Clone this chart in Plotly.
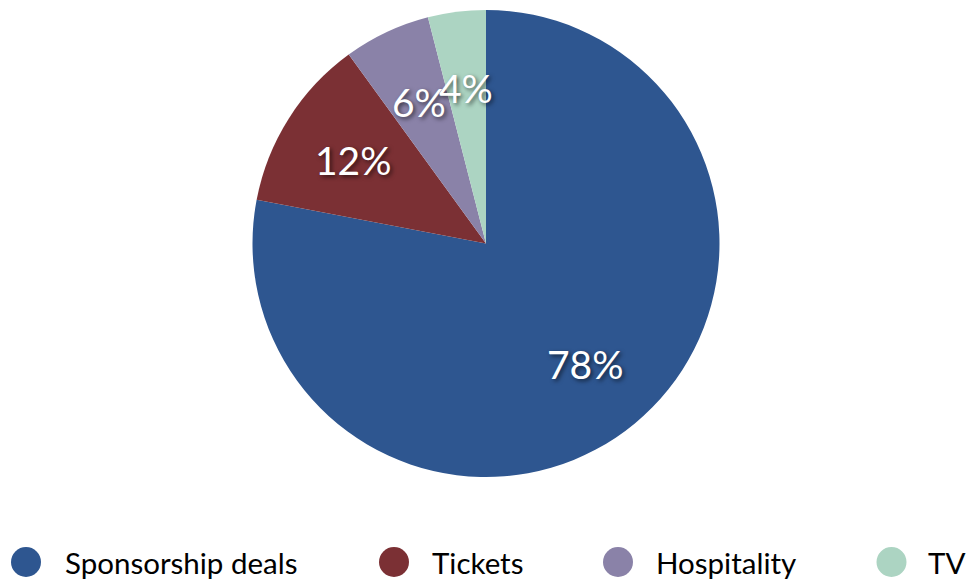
import math
import plotly.graph_objects as go

# Revenue split by source
categories = ["Sponsorship deals", "Tickets", "Hospitality", "TV"]
shares = [78, 12, 6, 4]
colors = ["#2E5690", "#7B3034", "#8A82A8", "#ACD4C2"]

W, H = 968, 579
FONT = "Lato, Liberation Sans, sans-serif"

# Pie geometry (pixels)
cx, cy, R = 486.0, 243.5, 233.5


def px_x(x):
    return x / W


def px_y(y):
    return 1 - y / H


fig = go.Figure(
    go.Pie(
        labels=categories,
        values=shares,
        marker=dict(colors=colors, line=dict(width=0)),
        sort=False,
        direction="clockwise",
        rotation=0,
        textinfo="none",
        hoverinfo="label+percent",
        showlegend=False,
        domain=dict(x=[px_x(cx - R), px_x(cx + R)], y=[px_y(cy + R), px_y(cy - R)]),
    )
)

# Percentage labels placed along each slice's mid-angle
total = sum(shares)
start = 0.0
annotations = []
for v in shares:
    sweep = 360.0 * v / total
    mid = math.radians(start + sweep / 2)
    start += sweep
    lx = cx + 0.67 * R * math.sin(mid)
    ly = cy - 0.67 * R * math.cos(mid)
    annotations.append(
        dict(
            x=px_x(lx), y=px_y(ly), xref="paper", yref="paper",
            text=f"{round(100 * v / total)}%", showarrow=False,
            xanchor="center", yanchor="middle",
            font=dict(family=FONT, size=39, color="white",
                      shadow="2px 2px 4px rgba(0,0,0,0.6)"),
        )
    )

# Legend row with circular swatches
legend_circle_x = [26, 394, 618, 891.5]
legend_text_x = [65, 432, 656, 928]
legend_y = 562
r_dot = 15
shapes = []
for name, col, mx, tx in zip(categories, colors, legend_circle_x, legend_text_x):
    shapes.append(
        dict(type="circle", xref="paper", yref="paper",
             x0=px_x(mx - r_dot), x1=px_x(mx + r_dot),
             y0=px_y(legend_y + r_dot), y1=px_y(legend_y - r_dot),
             fillcolor=col, line=dict(width=0))
    )
    annotations.append(
        dict(x=px_x(tx), y=px_y(legend_y), xref="paper", yref="paper",
             text=name, showarrow=False, xanchor="left", yanchor="middle",
             xshift=-2,
             font=dict(family=FONT, size=29.5, color="black"))
    )

fig.update_layout(
    width=W, height=H,
    margin=dict(l=0, r=0, t=0, b=0),
    paper_bgcolor="white",
    plot_bgcolor="white",
    annotations=annotations,
    shapes=shapes,
)

fig.write_html("out.html")
